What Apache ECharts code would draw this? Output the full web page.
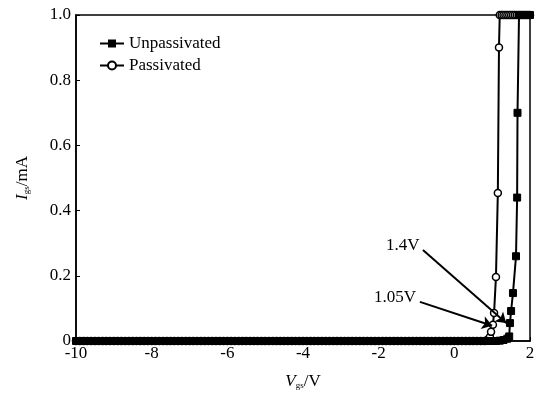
<!DOCTYPE html>
<html>
<head>
<meta charset="utf-8">
<script src="https://cdn.jsdelivr.net/npm/echarts@6/dist/echarts.min.js"></script>
<style>html,body{margin:0;padding:0;background:#fff}#c{width:543px;height:399px}</style>
</head>
<body>
<div id="c"></div>
<script>
// ---- data ----
var xTicks = [-10, -8, -6, -4, -2, 0, 2];
var yTicks = ['0', '0.2', '0.4', '0.6', '0.8', '1.0'];

var baseV = [-10,-9.9,-9.8,-9.7,-9.6,-9.5,-9.4,-9.3,-9.2,-9.1,-9,-8.9,-8.8,-8.7,-8.6,-8.5,-8.4,-8.3,-8.2,-8.1,-8,-7.9,-7.8,-7.7,-7.6,-7.5,-7.4,-7.3,-7.2,-7.1,-7,-6.9,-6.8,-6.7,-6.6,-6.5,-6.4,-6.3,-6.2,-6.1,-6,-5.9,-5.8,-5.7,-5.6,-5.5,-5.4,-5.3,-5.2,-5.1,-5,-4.9,-4.8,-4.7,-4.6,-4.5,-4.4,-4.3,-4.2,-4.1,-4,-3.9,-3.8,-3.7,-3.6,-3.5,-3.4,-3.3,-3.2,-3.1,-3,-2.9,-2.8,-2.7,-2.6,-2.5,-2.4,-2.3,-2.2,-2.1,-2,-1.9,-1.8,-1.7,-1.6,-1.5,-1.4,-1.3,-1.2,-1.1,-1,-0.9,-0.8,-0.7,-0.6,-0.5,-0.4,-0.3,-0.2,-0.1,0,0.1,0.2,0.3,0.4,0.5,0.6,0.7,0.8];
var baseI = [0,0,0,0,0,0,0,0,0,0,0,0,0,0,0,0,0,0,0,0,0,0,0,0,0,0,0,0,0,0,0,0,0,0,0,0,0,0,0,0,0,0,0,0,0,0,0,0,0,0,0,0,0,0,0,0,0,0,0,0,0,0,0,0,0,0,0,0,0,0,0,0,0,0,0,0,0,0,0,0,0,0,0,0,0,0,0,0,0,0,0,0,0,0,0,0,0,0,0,0,0,0,0,0,0,0,0,0,0];

var passV = [0.88,0.94,0.97,1.02,1.05,1.10,1.15,1.18,1.2,1.25,1.3,1.35,1.4,1.45,1.5,1.55,1.6,1.65,1.7,1.75,1.8,1.85,1.9,1.95,2.0];
var passI = [0.004,0.012,0.028,0.05,0.086,0.196,0.454,0.90,1.0,1.0,1.0,1.0,1.0,1.0,1.0,1.0,1.0,1.0,1.0,1.0,1.0,1.0,1.0,1.0,1.0];

var unpV = [0.9,1.0,1.1,1.2,1.3,1.4,1.45,1.47,1.50,1.55,1.63,1.66,1.67,1.71,1.75,1.8,1.85,1.9,1.95,2.0];
var unpI = [0,0,0,0.001,0.003,0.007,0.014,0.055,0.092,0.147,0.26,0.44,0.70,1.0,1.0,1.0,1.0,1.0,1.0,1.0];

var arrows = [
  {label: '1.4V', from: [-0.83, 0.279], to: [1.37, 0.055], text: [-1.36, 0.294]},
  {label: '1.05V', from: [-0.91, 0.12], to: [1.0, 0.047], text: [-1.57, 0.133]}
];

function pairs(xs, ys) { return xs.map(function (x, i) { return [x, ys[i]]; }); }

var font = 'Liberation Serif, Times New Roman, serif';
var chart = echarts.init(document.getElementById('c'), null, {renderer: 'canvas'});
chart.setOption({
  animation: false,
  backgroundColor: '#fff',
  textStyle: {fontFamily: font, color: '#000'},
  grid: {left: 76, right: 13, top: 15, bottom: 58, show: true, borderColor: '#000', borderWidth: 1.5, backgroundColor: 'transparent'},
  legend: {
    orient: 'vertical', left: 94, top: 30, itemWidth: 24, itemHeight: 10, itemGap: 5,
    textStyle: {fontFamily: font, fontSize: 17, color: '#000'},
    data: ['Unpassivated', 'Passivated']
  },
  xAxis: {
    type: 'value', min: -10, max: 2, interval: 2,
    axisLine: {show: true, lineStyle: {color: '#000', width: 1.5}},
    axisTick: {show: true, inside: true, length: 4, lineStyle: {color: '#000'}},
    splitLine: {show: false},
    axisLabel: {fontFamily: font, fontSize: 17, color: '#000', margin: 4,
      formatter: function (v) { return xTicks.indexOf(v) >= 0 ? String(v) : ''; }},
    name: '{i|V}{s|gs}{n|/V}', nameLocation: 'middle', nameGap: 32,
    nameTextStyle: {rich: {
      i: {fontFamily: font, fontSize: 17, fontStyle: 'italic', color: '#000'},
      s: {fontFamily: font, fontSize: 9, color: '#000', verticalAlign: 'bottom', padding: [8, 0, 0, 0]},
      n: {fontFamily: font, fontSize: 17, color: '#000'}
    }}
  },
  yAxis: {
    type: 'value', min: 0, max: 1, interval: 0.2,
    axisLine: {show: true, onZero: false, lineStyle: {color: '#000', width: 1.5}},
    axisTick: {show: true, inside: true, length: 4, lineStyle: {color: '#000'}},
    splitLine: {show: false},
    axisLabel: {fontFamily: font, fontSize: 17, color: '#000', margin: 5,
      formatter: function (v) { return yTicks[Math.round(v * 5)]; }},
    name: '{i|I}{s|gs}{n|/mA}', nameLocation: 'middle', nameGap: 45, nameRotate: 90,
    nameTextStyle: {rich: {
      i: {fontFamily: font, fontSize: 17, fontStyle: 'italic', color: '#000'},
      s: {fontFamily: font, fontSize: 9, color: '#000', verticalAlign: 'bottom', padding: [8, 0, 0, 0]},
      n: {fontFamily: font, fontSize: 17, color: '#000'}
    }}
  },
  series: [
    {
      name: 'Passivated', type: 'line', data: pairs(baseV, baseI).concat(pairs(passV, passI)),
      symbol: 'circle', symbolSize: 7, showAllSymbol: true,
      lineStyle: {color: '#000', width: 2},
      itemStyle: {color: '#fff', borderColor: '#000', borderWidth: 1.5},
      z: 3,
      markLine: {
        silent: true, symbol: ['none', 'arrow'], symbolSize: 10,
        lineStyle: {color: '#000', width: 2, type: 'solid'},
        label: {show: false},
        data: arrows.map(function (a) { return [{coord: a.from}, {coord: a.to}]; })
      },
      markPoint: {
        silent: true, symbol: 'circle', symbolSize: 0,
        label: {show: true, position: 'inside', fontFamily: font, fontSize: 17, color: '#000',
          formatter: function (p) { return p.name; }},
        data: arrows.map(function (a) { return {name: a.label, coord: a.text}; })
      }
    },
    {
      name: 'Unpassivated', type: 'line', data: pairs(baseV, baseI).concat(pairs(unpV, unpI)),
      symbol: 'rect', symbolSize: 7, showAllSymbol: true,
      lineStyle: {color: '#000', width: 2},
      itemStyle: {color: '#000', borderColor: '#000'},
      z: 4
    }
  ]
});
</script>
</body>
</html>
